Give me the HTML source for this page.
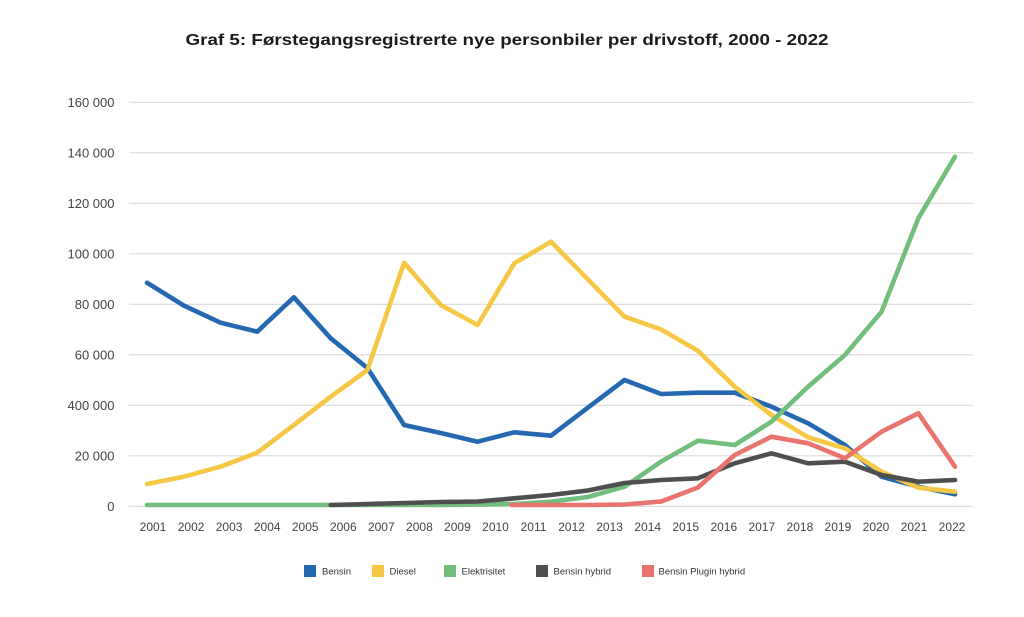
<!DOCTYPE html>
<html>
<head>
<meta charset="utf-8">
<style>
  html,body{margin:0;padding:0;background:#fff;}
  body{width:1024px;height:617px;overflow:hidden;}
  svg{display:block;}
  text{font-family:"Liberation Sans", Arial, sans-serif;}
</style>
</head>
<body>
<svg width="1024" height="617" viewBox="0 0 1024 617" xmlns="http://www.w3.org/2000/svg">
  <rect x="0" y="0" width="1024" height="617" fill="#ffffff"/>
  <!-- Title -->
  <text x="185.5" y="45" font-size="16" font-weight="bold" fill="#1a1a1a" textLength="643" lengthAdjust="spacingAndGlyphs">Graf 5: Førstegangsregistrerte nye personbiler per drivstoff, 2000 - 2022</text>

  <!-- Gridlines -->
  <g stroke="#dadada" stroke-width="1.2">
    <line x1="129" y1="102.3" x2="973" y2="102.3"/>
    <line x1="129" y1="152.8" x2="973" y2="152.8"/>
    <line x1="129" y1="203.3" x2="973" y2="203.3"/>
    <line x1="129" y1="253.8" x2="973" y2="253.8"/>
    <line x1="129" y1="304.3" x2="973" y2="304.3"/>
    <line x1="129" y1="354.8" x2="973" y2="354.8"/>
    <line x1="129" y1="405.3" x2="973" y2="405.3"/>
    <line x1="129" y1="455.8" x2="973" y2="455.8"/>
    <line x1="129" y1="506.3" x2="973" y2="506.3"/>
  </g>

  <!-- Y labels -->
  <g font-size="13" fill="#444" text-anchor="end">
    <text x="114.5" y="107">160 000</text>
    <text x="114.5" y="157.5">140 000</text>
    <text x="114.5" y="208">120 000</text>
    <text x="114.5" y="258.5">100 000</text>
    <text x="114.5" y="309">80 000</text>
    <text x="114.5" y="359.5">60 000</text>
    <text x="114.5" y="410">400 000</text>
    <text x="114.5" y="460.5">20 000</text>
    <text x="114.5" y="511">0</text>
  </g>

  <!-- X labels -->
  <g font-size="12" fill="#444" text-anchor="middle">
    <text x="153" y="531">2001</text>
    <text x="191.1" y="531">2002</text>
    <text x="229.1" y="531">2003</text>
    <text x="267.2" y="531">2004</text>
    <text x="305.2" y="531">2005</text>
    <text x="343.3" y="531">2006</text>
    <text x="381.3" y="531">2007</text>
    <text x="419.4" y="531">2008</text>
    <text x="457.4" y="531">2009</text>
    <text x="495.5" y="531">2010</text>
    <text x="533.5" y="531">2011</text>
    <text x="571.6" y="531">2012</text>
    <text x="609.6" y="531">2013</text>
    <text x="647.7" y="531">2014</text>
    <text x="685.7" y="531">2015</text>
    <text x="723.8" y="531">2016</text>
    <text x="761.8" y="531">2017</text>
    <text x="799.9" y="531">2018</text>
    <text x="837.9" y="531">2019</text>
    <text x="876" y="531">2020</text>
    <text x="914" y="531">2021</text>
    <text x="952" y="531">2022</text>
  </g>

  <!-- Series -->
  <g fill="none" stroke-width="4.6" stroke-linejoin="round" stroke-linecap="round">
    <!-- Bensin -->
    <polyline stroke="#2468b2" points="147,282.7 183.7,305.5 220.5,322.7 257.2,331.7 293.9,297.3 330.7,338.3 367.4,368 404.1,425 440.8,433 477.6,441.7 514.3,432.3 551,435.7 587.8,407.7 624.5,380 661.2,394 697.9,392.7 734.7,392.7 771.4,406.7 808.1,423.3 844.9,445 881.6,476.7 918.3,486.7 955,494.3"/>
    <!-- Diesel -->
    <polyline stroke="#f6c744" points="147,484 183.7,476.7 220.5,466.7 257.2,452.7 293.9,425 330.7,396.7 367.4,370 404.1,262.7 440.8,305 477.6,325 514.3,263.3 551,241.7 587.8,279.3 624.5,316.7 661.2,329.5 697.9,350.7 734.7,386.7 771.4,415 808.1,437.3 844.9,448.3 881.6,471.7 918.3,487.7 955,491.7"/>
    <!-- Elektrisitet -->
    <polyline stroke="#71be7d" points="147,505 183.7,505 220.5,505 257.2,505 293.9,505 330.7,505 367.4,505 404.1,505 440.8,505 477.6,504.6 514.3,504 551,501.7 587.8,497 624.5,486.7 661.2,461.5 697.9,440.7 734.7,445 771.4,421.7 808.1,386.7 844.9,355 881.6,311.7 918.3,218.3 955,156.7"/>
    <!-- Bensin hybrid -->
    <polyline stroke="#4f4f4f" points="330.7,505 367.4,504 404.1,503 440.8,502 477.6,501.5 514.3,498.3 551,495 587.8,490.5 624.5,483 661.2,480 697.9,478.3 734.7,463.3 771.4,453.3 808.1,463.3 844.9,461.7 881.6,475 918.3,481.7 955,480"/>
    <!-- Bensin Plugin hybrid -->
    <polyline stroke="#e9736d" points="511.7,505 551,505 587.8,505 624.5,504.5 661.2,501.5 697.9,487.5 734.7,455 771.4,436.7 808.1,443.3 844.9,458.3 881.6,431.7 918.3,413.3 955,466.7"/>
  </g>

  <!-- Legend -->
  <rect x="304" y="565" width="12" height="12" fill="#2468b2"/>
  <rect x="372" y="565" width="12" height="12" fill="#f6c744"/>
  <rect x="444" y="565" width="12" height="12" fill="#71be7d"/>
  <rect x="536" y="565" width="12" height="12" fill="#4f4f4f"/>
  <rect x="642" y="565" width="12" height="12" fill="#e9736d"/>
  <g font-size="9.5" fill="#333">
    <text x="322" y="574.5">Bensin</text>
    <text x="389.5" y="574.5">Diesel</text>
    <text x="461.5" y="574.5">Elektrisitet</text>
    <text x="553.5" y="574.5">Bensin hybrid</text>
    <text x="658.5" y="574.5">Bensin Plugin hybrid</text>
  </g>
</svg>
</body>
</html>
